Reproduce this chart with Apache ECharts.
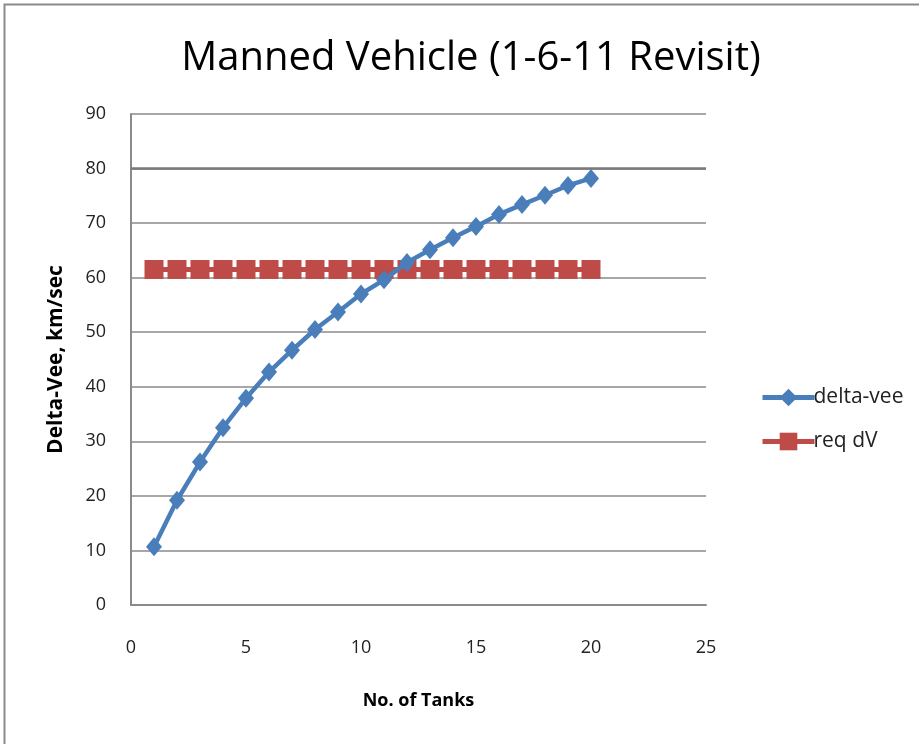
<!DOCTYPE html>
<html><head><meta charset="utf-8">
<script src="https://cdn.jsdelivr.net/npm/echarts@6/dist/echarts.min.js"></script>
<style>html,body{margin:0;padding:0;background:#fff}#c{width:919px;height:744px}</style>
</head><body><div id="c"></div>
<script>
const tanks = [1,2,3,4,5,6,7,8,9,10,11,12,13,14,15,16,17,18,19,20];
const deltaVee = [10.7,19.2,26.2,32.5,37.9,42.7,46.7,50.5,53.7,57.0,59.6,62.8,65.1,67.3,69.4,71.6,73.4,75.1,76.9,78.2];
const reqDV = [61.5,61.5,61.5,61.5,61.5,61.5,61.5,61.5,61.5,61.5,61.5,61.5,61.5,61.5,61.5,61.5,61.5,61.5,61.5,61.5];
const xTicks = [0,5,10,15,20,25];
const yTicks = [0,10,20,30,40,50,60,70,80,90];

const chart = echarts.init(document.getElementById('c'), null, {renderer:'canvas'});
const font = "'Open Sans', 'Noto Sans', sans-serif";
chart.setOption({
  animation:false,
  backgroundColor:'#fff',
  title:{text:'Manned Vehicle (1-6-11 Revisit)', left:466, textAlign:'center', top:34,
    textStyle:{fontFamily:font, fontSize:40, fontWeight:'normal', color:'#000'}},
  graphic:[{type:'rect', shape:{x:4.5,y:4.5,width:930,height:760}, style:{fill:null, stroke:'#8a8a8a', lineWidth:2}, silent:true}],
  legend:{orient:'vertical', left:755, top:382, itemGap:23, itemWidth:52, itemHeight:22,
    lineStyle:{width:5},
    textStyle:{fontFamily:font, fontSize:21, color:'#222', padding:[0,0,0,-6]},
    data:['delta-vee','req dV']},
  grid:{left:131, right:213, top:114, bottom:139},
  xAxis:{type:'value', min:xTicks[0], max:xTicks[xTicks.length-1], interval:5,
    name:'No. of Tanks', nameLocation:'middle', nameGap:87,
    nameTextStyle:{fontFamily:font, fontSize:18, fontWeight:'bold', color:'#000'},
    axisLine:{show:true, lineStyle:{color:'#8a8a8a', width:2}},
    axisTick:{show:false}, splitLine:{show:false},
    axisLabel:{fontFamily:font, fontSize:18, color:'#222', margin:34}},
  yAxis:{type:'value', min:yTicks[0], max:yTicks[yTicks.length-1], interval:10,
    name:'Delta-Vee, km/sec', nameLocation:'middle', nameGap:64, nameRotate:90,
    nameTextStyle:{fontFamily:font, fontSize:21, fontWeight:'bold', color:'#000'},
    axisLine:{show:true, lineStyle:{color:'#8a8a8a', width:2}},
    axisTick:{show:false},
    splitLine:{show:true, lineStyle:{color:'#8a8a8a', width:1.5}},
    axisLabel:{fontFamily:font, fontSize:18, color:'#222', margin:25}},
  series:[
    {name:'delta-vee', type:'line', data:tanks.map((t,i)=>[t,deltaVee[i]]),
      symbol:'diamond', symbolSize:[16,19], color:'#4a7ebb',
      lineStyle:{width:4.5, color:'#4a7ebb'}, itemStyle:{color:'#4a7ebb'}, z:3},
    {name:'req dV', type:'line', data:tanks.map((t,i)=>[t,reqDV[i]]),
      symbol:'rect', symbolSize:[19,19], color:'#be4b48',
      lineStyle:{width:5, color:'#be4b48'}, itemStyle:{color:'#be4b48'}, z:2},
    {name:'grid80', type:'line', data:[], silent:true,
      markLine:{symbol:'none', silent:true, label:{show:false},
        lineStyle:{color:'#7a7a7a', width:2.5, type:'solid'}, data:[{yAxis:80}]}, z:1}
  ]
});
</script></body></html>
